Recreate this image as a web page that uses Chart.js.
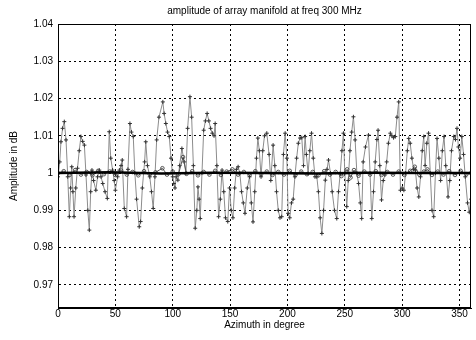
<!DOCTYPE html>
<html>
<head>
<meta charset="utf-8">
<script src="https://cdn.jsdelivr.net/npm/chart.js@4/dist/chart.umd.min.js"></script>
<style>
    html, body { margin: 0; padding: 0; background: #fff; }
</style>
</head>
<body>
<canvas id="chart" width="476" height="340"></canvas>
<script>
// Textos do gráfico
const chartTitle = 'amplitude of array manifold at freq 300 MHz';
const xTitle = 'Azimuth in degree';
const yTitle = 'Amplitude in dB';

// Ticks dos eixos
const xTicks = [0, 50, 100, 150, 200, 250, 300, 350];
const yTicks = [0.97, 0.98, 0.99, 1.00, 1.01, 1.02, 1.03, 1.04];

// Série ruidosa (marcadores +)
const azimuthNoisy = [
    0, 1.5, 2.6, 4, 5.5, 7, 8.5, 9.9, 11, 12, 13, 14, 15.5, 17, 18.5, 20, 21.5, 23, 24.4, 26,
    27.3, 28.5, 29.6, 31, 33, 34.5, 36, 37.5, 39, 41, 43, 44.7, 46, 47.6, 49, 50, 52, 53.5, 55, 56,
    57.8, 59.8, 61, 62.7, 64, 65.6, 67, 68.5, 70.8, 72, 73.5, 75.5, 76.5, 78, 80, 81.5, 83, 84.5, 86, 88,
    91.4, 92.5, 94, 95.5, 97, 98.5, 100, 101, 102, 103, 104.5, 106, 108, 110, 111.5, 113, 115, 116.5, 118, 119.6,
    121, 122, 123, 124, 125.5, 127, 128.5, 130, 131.5, 133, 134.5, 136, 137, 138.5, 140, 141.5, 143, 144.5, 146, 148,
    149.5, 151, 152.5, 154, 155.5, 157, 158.5, 160, 161.5, 163, 165, 167, 168.5, 170, 171.5, 173, 174.2, 175.5, 177, 178.5,
    180, 182, 184, 185.5, 187.5, 189, 190.5, 192, 193.5, 195, 196.5, 198, 199.5, 200.6, 202, 203.5, 205, 206.5, 208, 209.5,
    211, 212.5, 214, 215.4, 216.5, 218, 219.5, 221, 222.5, 224, 225.6, 227, 228.5, 230, 231.5, 233, 234.5, 235.8, 237.5, 239,
    241, 243, 244.5, 246, 247.5, 248.8, 250, 251.7, 253, 254.5, 256, 257.5, 259, 260.5, 262, 263.5, 264.7, 266, 268, 270.6,
    272, 273.5, 275, 276.5, 278, 279, 280.5, 282, 283.5, 285, 286.5, 288, 289.7, 291, 292.5, 294, 295.5, 297, 298.5, 300,
    301.5, 303, 304.5, 305.7, 307, 308.5, 310, 311.5, 313, 314.5, 316, 317.5, 318.8, 320, 321.5, 323, 324.5, 326, 327.5, 329,
    330.4, 332, 333.5, 335, 336.5, 338, 340, 341.5, 343, 345, 346.5, 347.8, 349, 350.5, 352, 353.5, 355, 357, 358.5, 360
];
const ampNoisy = [
    0.9990, 1.0030, 1.0084, 1.0120, 1.0138, 1.0089, 0.9990, 0.9883, 0.9960, 1.0017, 0.9950, 0.9883, 0.9960, 1.0013, 1.0060, 1.0098, 1.0085, 1.0075, 0.9995, 0.9900,
    0.9847, 0.9950, 1.0008, 0.9980, 0.9954, 0.9990, 1.0008, 0.9990, 0.9972, 0.9950, 0.9932, 1.0111, 1.0040, 1.0008, 0.9980, 0.9954, 0.9990, 1.0008, 1.0020, 1.0035,
    0.9905, 0.9883, 1.0010, 1.0133, 1.0110, 1.0098, 1.0000, 0.9930, 0.9856, 0.9870, 0.9960, 1.0030, 1.0084, 1.0020, 0.9990, 0.9950, 0.9905, 0.9990, 1.0089, 1.0150,
    1.0191, 1.0160, 1.0133, 1.0110, 1.0098, 1.0040, 0.9990, 0.9972, 0.9960, 0.9990, 0.9981, 1.0020, 1.0066, 1.0030, 1.0000, 1.0120, 1.0205, 1.0150, 1.0020, 0.9852,
    0.9900, 0.9963, 0.9930, 0.9878, 1.0000, 1.0115, 1.0140, 1.0160, 1.0140, 1.0120, 1.0107, 1.0100, 1.0133, 1.0020, 0.9883, 0.9930, 1.0008, 0.9950, 0.9880, 0.9870,
    0.9960, 0.9900, 0.9880, 0.9960, 1.0010, 1.0017, 1.0000, 0.9950, 0.9920, 0.9892, 0.9960, 0.9990, 0.9920, 0.9869, 0.9950, 1.0040, 1.0094, 1.0060, 0.9990, 1.0060,
    1.0100, 1.0107, 1.0050, 0.9980, 1.0075, 1.0020, 0.9950, 0.9900, 0.9880, 0.9883, 1.0050, 1.0107, 1.0040, 0.9892, 0.9880, 0.9920, 0.9930, 0.9990, 1.0040, 1.0080,
    1.0094, 1.0095, 1.0020, 1.0098, 1.0050, 0.9999, 1.0060, 1.0107, 1.0040, 0.9990, 0.9990, 0.9950, 0.9880, 0.9838, 0.9900, 0.9981, 1.0010, 1.0035, 1.0000, 0.9950,
    0.9900, 0.9878, 0.9950, 0.9999, 1.0060, 1.0107, 1.0000, 0.9910, 0.9980, 1.0060, 1.0110, 1.0151, 1.0089, 1.0000, 0.9972, 0.9920, 0.9878, 1.0030, 1.0070, 1.0102,
    1.0000, 0.9878, 0.9950, 1.0030, 1.0090, 1.0115, 1.0020, 0.9928, 0.9980, 0.9995, 1.0030, 1.0080, 1.0107, 1.0100, 1.0095, 1.0098, 1.0150, 1.0191, 0.9954, 0.9960,
    0.9954, 1.0000, 1.0060, 1.0093, 1.0080, 1.0040, 1.0010, 1.0008, 0.9960, 0.9936, 0.9990, 1.0060, 1.0098, 1.0020, 1.0080, 1.0107, 1.0000, 0.9900, 0.9883, 1.0000,
    1.0093, 1.0040, 0.9980, 1.0060, 1.0098, 1.0020, 0.9936, 0.9980, 1.0060, 1.0098, 1.0090, 1.0120, 1.0070, 1.0040, 1.0098, 1.0050, 0.9990, 0.9920, 0.9895, 0.9930
];

// Série de pequena amplitude (marcadores o)
const azimuthSmall = [
    0, 5, 10, 15, 20, 25, 30, 35, 40, 45, 50, 55, 60, 65, 70, 75, 80, 85, 91, 95,
    100, 105, 109, 112, 117, 122, 127, 132, 137, 142, 147, 152, 157, 162, 167, 172, 177, 182, 187, 192,
    197, 202, 207, 212, 217, 222, 227, 232, 237, 242, 247, 252, 255, 258, 262, 267, 272, 277, 282, 287,
    292, 297, 302, 307, 311, 315, 319, 322, 326, 331, 336, 341, 346, 351, 356, 360
];
const ampSmall = [
    1.0000, 1.0005, 0.9995, 1.0008, 0.9996, 1.0003, 0.9994, 1.0006, 0.9997, 1.0004, 0.9995, 1.0007, 0.9996, 1.0003, 0.9994, 1.0005, 0.9997, 1.0002, 1.0013, 0.9996,
    1.0004, 0.9997, 1.0043, 0.9998, 1.0005, 0.9994, 1.0003, 0.9996, 1.0006, 0.9995, 1.0004, 1.0010, 0.9996, 1.0003, 0.9995, 1.0005, 0.9997, 1.0004, 0.9995, 1.0003,
    0.9996, 1.0006, 0.9995, 1.0004, 0.9997, 1.0003, 0.9994, 1.0005, 0.9996, 1.0003, 0.9992, 1.0010, 0.9988, 1.0008, 0.9993, 1.0004, 0.9996, 1.0005, 0.9995, 1.0003,
    0.9996, 1.0004, 0.9995, 1.0006, 1.0017, 0.9996, 1.0004, 1.0010, 0.9995, 1.0004, 0.9996, 1.0005, 0.9995, 1.0006, 0.9997, 1.0000
];

// Linha de referência em 1
const azimuthFlat = [0, 45, 90, 135, 180, 225, 270, 315, 360];
const ampFlat = [1.0000, 1.0002, 0.9999, 1.0001, 1.0000, 0.9999, 1.0001, 1.0000, 1.0000];

function toPoints(xs, ys) {
    return xs.map((x, i) => ({ x: x, y: ys[i] }));
}

const fontFamily = '"Liberation Sans", Arial, sans-serif';

// Plugin para moldura da área e título
const frameTitle = {
    id: 'frameTitle',
    afterDraw(chart) {
        const { ctx, chartArea: a } = chart;
        ctx.save();
        ctx.setLineDash([]);
        ctx.strokeStyle = '#000';
        ctx.lineWidth = 1;
        ctx.strokeRect(a.left + 0.5, a.top + 0.5, a.width - 1, a.height - 1);
        ctx.fillStyle = '#000';
        ctx.font = '10px ' + fontFamily;
        ctx.textAlign = 'center';
        ctx.textBaseline = 'middle';
        ctx.fillText(chartTitle, (a.left + a.right) / 2, 11);
        ctx.restore();
    }
};

new Chart(document.getElementById('chart'), {
    type: 'line',
    data: {
        datasets: [
            {
                data: toPoints(azimuthFlat, ampFlat),
                borderColor: '#000',
                borderWidth: 2.5,
                pointRadius: 0
            },
            {
                data: toPoints(azimuthSmall, ampSmall),
                borderColor: '#555',
                borderWidth: 1,
                pointStyle: 'circle',
                pointRadius: 1.8,
                pointBorderColor: '#333',
                pointBackgroundColor: 'rgba(0,0,0,0)',
                pointBorderWidth: 0.8
            },
            {
                data: toPoints(azimuthNoisy, ampNoisy),
                borderColor: '#8c8c8c',
                borderWidth: 1,
                pointStyle: 'cross',
                pointRadius: 2,
                pointBorderColor: '#333',
                pointBorderWidth: 1
            }
        ]
    },
    options: {
        responsive: false,
        animation: false,
        layout: { padding: { top: 24, right: 4, left: 0, bottom: 0 } },
        plugins: {
            legend: { display: false },
            tooltip: { enabled: false }
        },
        scales: {
            x: {
                type: 'linear',
                min: 0,
                max: 360,
                afterBuildTicks: s => { s.ticks = xTicks.map(v => ({ value: v })); },
                afterFit: s => { s.height = 32; },
                ticks: { color: '#000', font: { size: 10, family: fontFamily }, padding: 0, maxRotation: 0 },
                grid: { color: '#000', lineWidth: 1, drawTicks: false },
                border: { display: true, color: '#000', dash: [2, 3] },
                title: { display: true, text: xTitle, color: '#000', font: { size: 10, family: fontFamily }, padding: { top: 9, bottom: 9 } }
            },
            y: {
                min: 0.9638,
                max: 1.04,
                afterBuildTicks: s => { s.ticks = yTicks.map(v => ({ value: v })); },
                afterFit: s => { s.width = 58; },
                ticks: {
                    color: '#000',
                    font: { size: 10, family: fontFamily },
                    padding: 5,
                    callback: v => String(Number(v.toFixed(2)))
                },
                grid: { color: '#000', lineWidth: 1, drawTicks: false },
                border: { display: true, color: '#000', dash: [2, 3] },
                title: { display: true, text: yTitle, color: '#000', font: { size: 10, family: fontFamily }, padding: { top: 8, bottom: 4 } }
            }
        }
    },
    plugins: [frameTitle]
});
</script>
</body>
</html>
